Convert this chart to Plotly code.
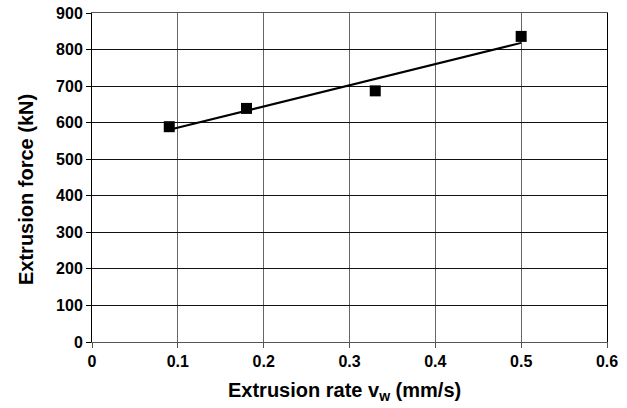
import numpy as np
import plotly.graph_objects as go

rate = [0.09, 0.18, 0.33, 0.5]
force = [589, 639, 687, 836]
x_ticks = [0, 0.1, 0.2, 0.3, 0.4, 0.5, 0.6]
x_tick_labels = ["0", "0.1", "0.2", "0.3", "0.4", "0.5", "0.6"]
y_ticks = list(range(0, 1000, 100))

slope, intercept = np.polyfit(rate, force, 1)
fit_x = [min(rate), max(rate)]
fit_y = [slope * v + intercept for v in fit_x]

fig = go.Figure()
fig.add_trace(go.Scatter(x=fit_x, y=fit_y, mode="lines",
                         line=dict(color="black", width=2), showlegend=False))
fig.add_trace(go.Scatter(x=rate, y=force, mode="markers",
                         marker=dict(symbol="square", size=11, color="black"),
                         showlegend=False))

font = "Liberation Sans, Arial, sans-serif"
L, R, T, B, W, H = 92, 20, 13, 66, 627, 408
pw, ph = W - L - R, H - T - B
fig.update_layout(
    width=W, height=H,
    margin=dict(l=L, r=R, t=T, b=B),
    paper_bgcolor="white", plot_bgcolor="white",
    font=dict(family=font, color="black"),
    xaxis=dict(range=[0, 0.6], tickvals=x_ticks, ticktext=x_tick_labels,
               showgrid=True, gridcolor="#666666", gridwidth=1,
               showline=True, linecolor="#555555", linewidth=1, mirror=True,
               ticks="outside", ticklen=5, tickcolor="#555555",
               tickfont=dict(size=16, family=font, weight="bold"),
               zeroline=False, automargin=False),
    yaxis=dict(range=[0, 900], tickvals=y_ticks,
               showgrid=True, gridcolor="#111111", gridwidth=1,
               showline=True, linecolor="black", linewidth=1, mirror=True,
               ticks="outside", ticklen=5, tickcolor="black",
               tickfont=dict(size=16, family=font, weight="bold"),
               zeroline=False, automargin=False),
    annotations=[
        dict(text="<b>Extrusion force (kN)</b>", textangle=-90,
             xref="paper", yref="paper",
             x=(26 - L) / pw, y=(H - B - 190) / ph,
             xanchor="center", yanchor="middle", showarrow=False,
             font=dict(size=20, family=font, color="black")),
        dict(text="<b>Extrusion rate v<sub>w</sub> (mm/s)</b>",
             xref="paper", yref="paper",
             x=(344 - L) / pw, y=(H - B - 391) / ph,
             xanchor="center", yanchor="middle", showarrow=False,
             font=dict(size=20, family=font, color="black")),
    ],
)
fig.write_html("out.html")
